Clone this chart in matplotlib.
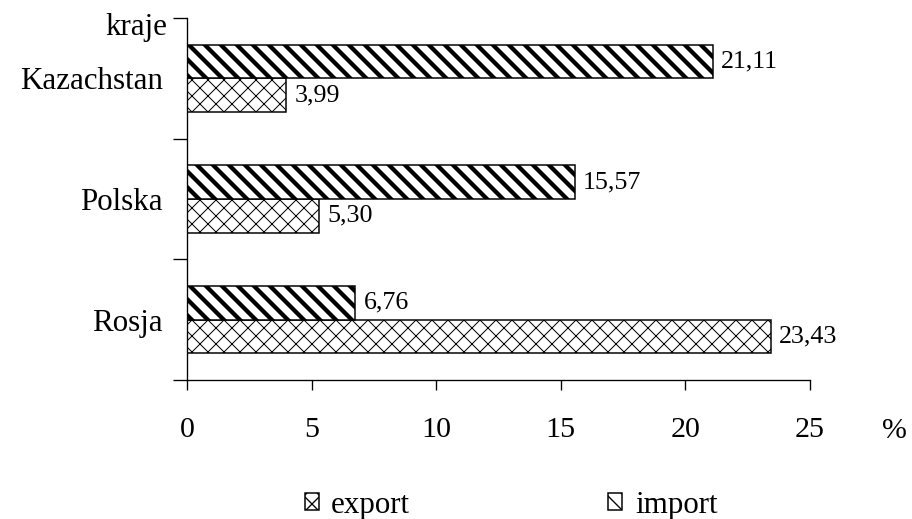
import matplotlib
matplotlib.use("Agg")
import matplotlib.pyplot as plt
import numpy as np

# Data (percent)
countries = ["Rosja", "Polska", "Kazachstan"]  # bottom to top
export_vals = [23.43, 5.30, 3.99]
import_vals = [6.76, 15.57, 21.11]
x_ticks = [0, 5, 10, 15, 20, 25]

plt.rcParams['font.family'] = ['Liberation Serif', 'DejaVu Serif']

DPI = 96
PT = 72 / DPI          # convert pixel sizes to points
FS_NUM = 26 * PT       # value labels
FS_TICK = 30 * PT      # x tick labels
FS_WORD = 31 * PT      # category names, legend, captions

fig = plt.figure(figsize=(912 / DPI, 519 / DPI), dpi=DPI)
ax = fig.add_axes([187 / 912, 1 - 380 / 519, (810 - 187) / 912, (380 - 18) / 519])

y = np.arange(len(countries)) + 0.5
h = 0.28

b_exp = ax.barh(y - h / 2, export_vals, height=h, color="white", edgecolor="black",
                linewidth=1.5 * PT, hatch="xx", label="export")
b_imp = ax.barh(y + h / 2, import_vals, height=h, color="white", edgecolor="black",
                linewidth=1.5 * PT, hatch="\\\\", label="import")
for p in b_exp.patches:
    if hasattr(p, "set_hatch_linewidth"):
        p.set_hatch_linewidth(1.0 * PT)
for p in b_imp.patches:
    if hasattr(p, "set_hatch_linewidth"):
        p.set_hatch_linewidth(4.3 * PT)

def fmt(v):
    return f"{v:.2f}".replace(".", ",")

for bars, vals in ((b_exp, export_vals), (b_imp, import_vals)):
    for bar, v in zip(bars.patches, vals):
        ax.annotate(fmt(v), (v, bar.get_y() + bar.get_height() / 2),
                    xytext=(8 * PT, 0), textcoords="offset points",
                    va="center", ha="left", fontsize=FS_NUM)

ax.set_xlim(0, 25)
ax.set_ylim(0, 3)
ax.set_xticks(x_ticks)
ax.set_xticklabels([str(t) for t in x_ticks], fontsize=FS_TICK)
ax.set_yticks([0, 1, 2, 3])
ax.set_yticklabels([])
ax.set_yticks(y, minor=True)
ax.set_yticklabels(countries, minor=True, fontsize=FS_WORD)
ax.tick_params(axis="y", which="minor", length=0, pad=24 * PT)
ax.tick_params(axis="y", which="major", length=14 * PT, width=1, direction="out")
ax.tick_params(axis="x", length=10 * PT, width=1, direction="out", pad=27 * PT)
for s in ("top", "right"):
    ax.spines[s].set_visible(False)
for s in ("left", "bottom"):
    ax.spines[s].set_linewidth(1)

fig.text(167 / 912, 1 - 35 / 519, "kraje", ha="right", va="baseline", fontsize=FS_WORD)
fig.text(894 / 912, 1 - 431 / 519, "%", ha="center", va="center", fontsize=FS_TICK)

fig.legend(handles=[b_exp, b_imp], loc="center", bbox_to_anchor=(511 / 912, 1 - 505 / 519),
           ncol=2, frameon=False, fontsize=FS_WORD, handlelength=0.45, handleheight=0.45,
           handletextpad=0.4, columnspacing=6.4, borderpad=0, borderaxespad=0)

fig.savefig("out.png", dpi=DPI)
